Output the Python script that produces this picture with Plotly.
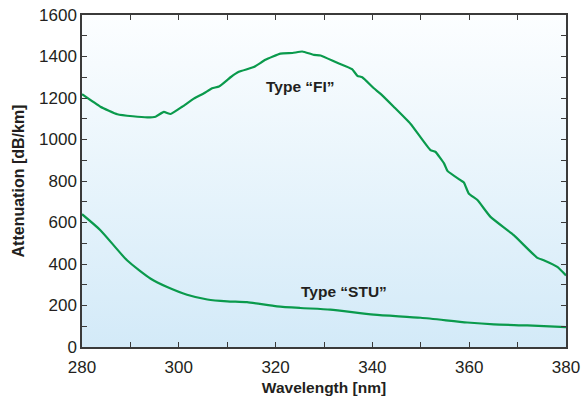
import base64
import plotly.graph_objects as go

# FI fiber attenuation (dB/km) vs wavelength (nm)
fi_wavelength = [280, 283.8, 287.3, 290.5, 293.5, 295.2, 296.9, 298.3, 300.7, 303.1, 305.2,
                 306.9, 308.3, 310.7, 312.4, 315.5, 317.9, 321.0, 323.5, 325.5, 327.9,
                 329.3, 332.5, 335.8, 336.9, 337.9, 340.3, 341.7, 344.4, 347.9, 352.0,
                 353.0, 354.8, 355.5, 358.2, 358.9, 359.9, 361.7, 364.4, 369.2, 374.0,
                 375.4, 378.2, 380]
fi_attenuation = [1218, 1158, 1122, 1112, 1107, 1110, 1133, 1123, 1158, 1197, 1223,
                  1247, 1255, 1300, 1326, 1349, 1384, 1414, 1417, 1424, 1408,
                  1405, 1372, 1339, 1307, 1300, 1247, 1220, 1158, 1075, 949,
                  941, 885, 849, 804, 793, 740, 708, 627, 539, 431,
                  418, 386, 345]

# STU fiber attenuation (dB/km) vs wavelength (nm)
stu_wavelength = [280, 283.8, 289.3, 294.2, 297.6, 301.7, 305.9, 310.0, 314.1, 320.3,
                  325.1, 331.3, 340.3, 350.0, 359.6, 365.1, 372.0, 380]
stu_attenuation = [640, 563, 418, 329, 289, 252, 229, 220, 216, 196,
                   188, 180, 156, 141, 118, 109, 104, 96]

x_ticks = [280, 300, 320, 340, 360, 380]
y_ticks = [0, 200, 400, 600, 800, 1000, 1200, 1400, 1600]

labels = [("Type “FI”", 325.1, 1254), ("Type “STU”", 334.2, 268)]

GREEN = "#0a9a4c"
AXIS = "#3a3a3a"
TEXT = "#231f20"
FONT = "Liberation Sans, Arial, sans-serif"

svg = ('<svg xmlns="http://www.w3.org/2000/svg" width="100" height="100" preserveAspectRatio="none">'
       '<defs><linearGradient id="g" x1="0" y1="0" x2="0" y2="1">'
       '<stop offset="0" stop-color="#fcfeff"/><stop offset="1" stop-color="#d3eaf8"/>'
       '</linearGradient></defs><rect width="100" height="100" fill="url(#g)"/></svg>')
svg_uri = "data:image/svg+xml;base64," + base64.b64encode(svg.encode()).decode()

fig = go.Figure()
fig.add_trace(go.Scatter(x=fi_wavelength, y=fi_attenuation, mode="lines",
                         line=dict(color=GREEN, width=2.2, shape="spline", smoothing=0.4),
                         showlegend=False, hoverinfo="skip"))
fig.add_trace(go.Scatter(x=stu_wavelength, y=stu_attenuation, mode="lines",
                         line=dict(color=GREEN, width=2.2, shape="spline", smoothing=0.6),
                         showlegend=False, hoverinfo="skip"))

for text, lx, ly in labels:
    fig.add_annotation(x=lx, y=ly, text=f"<b>{text}</b>", showarrow=False,
                       font=dict(family=FONT, size=15.5, color=TEXT))

fig.add_layout_image(dict(source=svg_uri, xref="paper", yref="paper", x=0, y=1,
                          sizex=1, sizey=1, sizing="stretch", layer="below",
                          xanchor="left", yanchor="top"))

axis_common = dict(showgrid=False, zeroline=False, showline=True, linecolor=AXIS, linewidth=1.5,
                   mirror="ticks", ticks="inside", ticklen=5, tickwidth=1.2, tickcolor=AXIS,
                   automargin=False, ticklabeloverflow="allow",
                   tickfont=dict(family=FONT, size=17, color=TEXT))

fig.update_xaxes(range=[280, 380], tickvals=x_ticks, ticklabelstandoff=4,
                 minor=dict(dtick=10, tick0=280, ticks="inside", ticklen=5, tickwidth=1.2, tickcolor=AXIS),
                 title=dict(text="<b>Wavelength [nm]</b>", standoff=6,
                            font=dict(family=FONT, size=15.5, color=TEXT)),
                 **axis_common)
fig.update_yaxes(range=[0, 1600], tickvals=y_ticks,
                 minor=dict(dtick=100, tick0=0, ticks="inside", ticklen=5, tickwidth=1.2, tickcolor=AXIS),
                 title=dict(text="<b>Attenuation [dB/km]</b>", standoff=10,
                            font=dict(family=FONT, size=16, color=TEXT)),
                 **axis_common)

fig.update_layout(width=581, height=398, margin=dict(l=82, r=15, t=15, b=51),
                  paper_bgcolor="white", plot_bgcolor="white")

fig.write_html("out.html", config={"displayModeBar": False},
               post_script="document.body.style.margin='0';document.body.style.overflow='hidden';")
